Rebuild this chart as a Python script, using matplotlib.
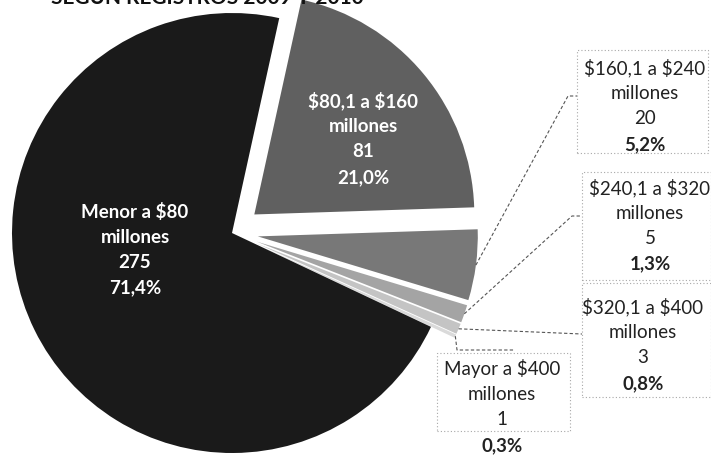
import numpy as np
import matplotlib
matplotlib.use("Agg")
import matplotlib.pyplot as plt
from matplotlib.patches import Rectangle

# ---- data ----
categories = [r"\$80,1 a \$160", r"\$160,1 a \$240", r"\$240,1 a \$320",
              r"\$320,1 a \$400", r"Mayor a \$400", r"Menor a \$80"]
unit = "millones"
counts = [81, 20, 5, 3, 1, 275]
percents = ["21,0%", "5,2%", "1,3%", "0,8%", "0,3%", "71,4%"]
title_text = "SEGÚN REGISTROS 2009 Y 2010"

colors = ["#606060", "#787878", "#a4a4a4", "#c4c4c4", "#dadada", "#1a1a1a"]
explode = [29, 26, 26, 26, 26, 0]

W, H = 711, 461
fig = plt.figure(figsize=(W / 100, H / 100), dpi=100)
ax = fig.add_axes([0, 0, 1, 1])

cx, cy, R = 232, H - 233, 220
start = 77.6
wedges, _ = ax.pie(counts, colors=colors, explode=explode, startangle=start,
                   counterclock=False, radius=R, center=(cx, cy),
                   wedgeprops=dict(linewidth=0), frame=True)
ax.set_xlim(0, W)
ax.set_ylim(0, H)
ax.set_aspect("equal")
ax.axis("off")

font = ["Lato", "DejaVu Sans"]

def Y(y):
    return H - y

def label(i, x, y, color, inside):
    lines = [categories[i], unit, str(counts[i]), percents[i]]
    step = 25.5
    for k, s in enumerate(lines):
        bold = inside or k == 3
        ax.text(x, Y(y + (k - 1.5) * step), s, color=color, fontsize=13.5,
                fontweight="bold" if bold else "normal",
                ha="center", va="center", family=font)

# inside labels (white, bold)
label(0, 363, 139, "white", True)
label(5, 135, 250, "white", True)

# outside callout labels
for i, (x, y) in {1: (645, 106), 2: (650, 226), 3: (643, 345), 4: (502, 407)}.items():
    label(i, x, y, "#222222", False)

# dotted label boxes
boxes = [(577, 50, 131, 103), (582, 172, 129, 108), (582, 283, 129, 114), (437, 353, 133, 78)]
for (bx, by, bw, bh) in boxes:
    ax.add_patch(Rectangle((bx, Y(by + bh)), bw, bh, fill=False, ls=(0, (1, 2)),
                           lw=0.8, ec="#a8a8a8"))

# leader lines from wedges to boxes
leaders = {1: [(568, 96), (577, 96)], 2: [(572, 216), (582, 216)], 3: [(582, 334)],
           4: [(457, 350), (515, 350)]}
for i, pts in leaders.items():
    w = wedges[i]
    th = np.deg2rad((w.theta1 + w.theta2) / 2)
    x0 = w.center[0] + 1.0 * R * np.cos(th)
    y0 = w.center[1] + 1.0 * R * np.sin(th)
    xs = [x0] + [p[0] for p in pts]
    ys = [y0] + [Y(p[1]) for p in pts]
    ax.plot(xs, ys, color="#555555", lw=0.8, ls=(0, (3, 2)))

# title, cut off at the top edge as in the reference scan
fig.text(207 / W, 1 - 4 / H, title_text, ha="center", va="baseline", fontsize=15,
         fontweight="bold", color="#111111", family=font)

fig.savefig("out.png", dpi=100)
